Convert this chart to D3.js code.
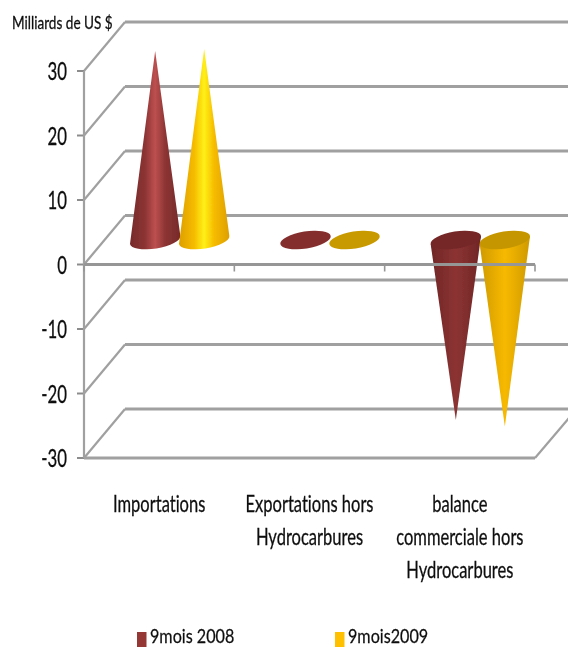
<!DOCTYPE html>
<html><head><meta charset="utf-8">
<script src="https://cdn.jsdelivr.net/npm/d3@7"></script>
<style>html,body{margin:0;padding:0;background:#fff;overflow:hidden}svg{display:block}text{font-family:Lato,"Open Sans",sans-serif;fill:#111;stroke:#111;stroke-width:.25px;font-variant-ligatures:none}</style>
</head><body><svg id="c" width="568" height="648"></svg>
<script>
const categories = [["Importations"],["Exportations hors","Hydrocarbures"],["balance","commerciale hors","Hydrocarbures"]];
const seriesNames = ["9mois 2008","9mois2009"];
const values2008 = [29.3, 0.3, -27.9];
const values2009 = [29.6, 0.3, -28.9];
const yTicks = [30,20,10,0,-10,-20,-30];
const yTitle = "Milliards de US $";

const svg = d3.select("#c");
const W = 568;
const y = d3.scaleLinear().domain([-30,30]).range([458,71]);
const x0 = d3.scaleBand().domain(d3.range(categories.length)).range([84,535]);
const x1 = d3.scaleBand().domain([0,1]).range([0,98]);
const depth = {x:41,y:-49};
const defs = svg.append("defs");
defs.append("filter").attr("id","soft").append("feGaussianBlur").attr("stdDeviation",0.55);

function grad(id,stops){
  const g = defs.append("linearGradient").attr("id",id).attr("x1",0).attr("x2",1).attr("y1",0).attr("y2",0);
  stops.forEach(s=>g.append("stop").attr("offset",s[0]).attr("stop-color",s[1]));
}
grad("upR",[[0,"#772a2a"],[.3,"#8c3434"],[.5,"#bd5050"],[.7,"#8c3434"],[1,"#772a2a"]]);
grad("upY",[[0,"#dd9f00"],[.3,"#f6bb00"],[.5,"#fff016"],[.7,"#f6bb00"],[1,"#dd9f00"]]);
grad("dnR",[[0,"#702626"],[.5,"#8c3333"],[1,"#702626"]]);
grad("dnY",[[0,"#cf9a00"],[.5,"#f7b900"],[1,"#cf9a00"]]);
const caps = ["#742828","#c69600"];
const flat = ["#852f2f","#c99a00"];
const legendColors = ["#953735","#ffc000"];

const root = svg.append("g").attr("filter","url(#soft)");
const grid = root.append("g").attr("stroke","#a0a0a0").attr("fill","none");
yTicks.forEach(t=>{
  const yy=y(t);
  grid.append("line").attr("x1",84+depth.x).attr("x2",W).attr("y1",yy+depth.y).attr("y2",yy+depth.y).attr("stroke-width",2.8);
  grid.append("line").attr("x1",84).attr("x2",84+depth.x).attr("y1",yy).attr("y2",yy+depth.y).attr("stroke-width",2.2);
  grid.append("line").attr("x1",77).attr("x2",84).attr("y1",yy).attr("y2",yy).attr("stroke-width",2).attr("stroke","#8c8c8c");
});
grid.append("line").attr("x1",84).attr("x2",84).attr("y1",y(30)).attr("y2",y(-30)).attr("stroke-width",2.2);
grid.append("line").attr("x1",84).attr("x2",535).attr("y1",y(-30)).attr("y2",y(-30)).attr("stroke-width",2.8);
grid.append("line").attr("x1",535).attr("x2",W+1).attr("y1",y(-30)).attr("y2",y(-30)+depth.y*0.8*1.02).attr("stroke-width",2.2);

const rx=25.5, ry=8.5, tilt=-9, rad=tilt*Math.PI/180;
const baseY = y(0)-24.5;
const series=[values2008,values2009];
const cones=root.append("g");
series.forEach((vals,s)=>vals.forEach((v,i)=>{
  const cx=x0(i)+x0.bandwidth()/2+depth.x/2-49+x1(s)+x1.bandwidth()/2;
  const tipY=baseY+(y(v)-y(0));
  const lx=cx-rx*Math.cos(rad), ly=baseY-rx*Math.sin(rad);
  const rxp=cx+rx*Math.cos(rad), ryp=baseY+rx*Math.sin(rad);
  const isFlat=Math.abs(v)<1;
  const cap=()=>cones.append("ellipse").attr("cx",cx).attr("cy",baseY).attr("rx",rx).attr("ry",ry)
    .attr("transform",`rotate(${tilt} ${cx} ${baseY})`);
  if(isFlat){ cap().attr("fill",flat[s]); return; }
  const name=(v>0?"up":"dn")+(s?"Y":"R");
  if(v>0){
    cones.append("path").attr("fill",`url(#${name})`)
      .attr("d",`M${lx},${ly}L${cx},${tipY}L${rxp},${ryp}A${rx},${ry} ${tilt} 0 1 ${lx},${ly}Z`);
  } else {
    cones.append("path").attr("fill",`url(#${name})`).attr("d",`M${lx},${ly}L${cx},${tipY}L${rxp},${ryp}Z`);
    cap().attr("fill",caps[s]);
  }
}));

const axis=root.append("g").attr("stroke","#969696").attr("fill","none");
axis.append("line").attr("x1",84).attr("x2",535).attr("y1",y(0)).attr("y2",y(0)).attr("stroke-width",2.8);
d3.range(categories.length+1).forEach(i=>{
  const xx=i<categories.length?x0(i):535;
  axis.append("line").attr("x1",xx).attr("x2",xx).attr("y1",y(0)).attr("y2",y(0)+7).attr("stroke-width",1.6);
});

const labels=root.append("g");
function txt(x_,y_,str,size,anchor,sx,sy){
  return labels.append("text").attr("transform",`translate(${x_},${y_}) scale(${sx},${sy})`)
    .attr("text-anchor",anchor).attr("font-size",size).text(str);
}
yTicks.forEach(t=>txt(67,y(t)+9,String(t),21,"end",.8,1.18));
txt(12,29,yTitle,14,"start",.97,1.2);
const lineYs=[512,545,578];
categories.forEach((lines,i)=>lines.forEach((l,j)=>{
  txt(x0(i)+x0.bandwidth()/2,lineYs[j],l,19,"middle",.87,1.2);
}));
const legX=[137,335];
seriesNames.forEach((n,i)=>{
  root.append("rect").attr("x",legX[i]).attr("y",632).attr("width",9.5).attr("height",15).attr("fill",legendColors[i]);
  txt(legX[i]+13,643,n,19,"start",.85,1.03);
});
</script></body></html>
